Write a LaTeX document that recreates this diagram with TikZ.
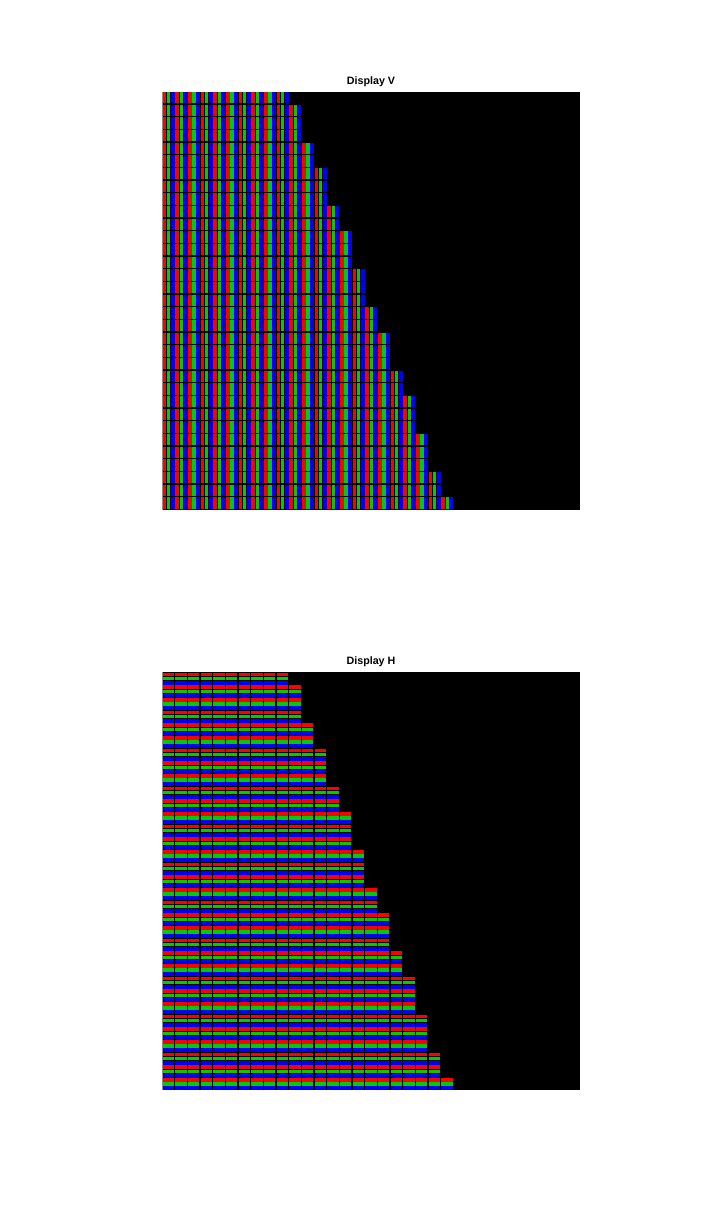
\documentclass[tikz,border=0pt]{standalone}
\usepackage{fontspec}
\setmainfont{Liberation Sans}
\usetikzlibrary{positioning}
\definecolor{sub0}{RGB}{255,0,0}
\definecolor{sub1}{RGB}{0,204,0}
\definecolor{sub2}{RGB}{0,0,255}
\definecolor{edgegray}{RGB}{140,140,140}

% 33 display pixels of 18 samples each, shown on 418 screen px
\def\scl{0.703704}
\def\lenlist{{10,11,11,11,12,12,13,13,13,14,14,15,15,15,16,16,16,17,17,18,18,18,19,19,20,20,20,21,21,21,22,22,23}}
\def\toplist{{0,0,0,0,0,0,0,0,0,0,1,4,6,9,11,14,17,19,22,24,27,30,32}}

\begin{document}
\begin{tikzpicture}[x=1pt,y=-1pt,
  title/.style={font=\bfseries\fontsize{10.7}{12}\selectfont,anchor=base},
  screen/.style={fill=black}
]
\useasboundingbox[fill=white] (0,0) rectangle (718,1225);

% Display V
\node[title] (titleV) at (371,84.5) {Display V};
\fill[screen] (162,92) rectangle (580,510);
\foreach \X in {0,...,290} {
  \pgfmathtruncatemacro\dcol{floor((\X+0.5)/\scl)}
  \pgfmathtruncatemacro\rem{mod(\dcol,18)}
  \pgfmathtruncatemacro\cidx{floor(\rem/6)}
  \pgfmathtruncatemacro\gapv{mod(\rem,6)}
  \pgfmathtruncatemacro\pcol{floor(\dcol/18)}
  \pgfmathtruncatemacro\ytop{ceil(18*\toplist[\pcol]*\scl-0.5)}
  \ifnum\gapv>0 \fill[sub\cidx] (162+\X,92+\ytop) rectangle (163+\X,510); \fi
}
\foreach \i in {0,...,32} {
  \pgfmathtruncatemacro\ya{ceil((18*\i+16)*\scl-0.5)}
  \pgfmathtruncatemacro\yb{ceil((18*\i+18)*\scl-0.5)}
  \fill[screen] (162,92+\ya) rectangle (580,92+\yb);
}
\fill[edgegray] (162,92) rectangle (163,510);

% Display H
\node[title] (titleH) at (371,664.5) {Display H};
\fill[screen] (162,672) rectangle (580,1090);
\foreach \Y in {0,...,417} {
  \pgfmathtruncatemacro\drow{floor((\Y+0.5)/\scl)}
  \pgfmathtruncatemacro\rem{mod(\drow,18)}
  \pgfmathtruncatemacro\cidx{floor(\rem/6)}
  \pgfmathtruncatemacro\gapv{mod(\rem,6)}
  \pgfmathtruncatemacro\prow{floor(\drow/18)}
  \pgfmathtruncatemacro\xend{ceil(18*\lenlist[\prow]*\scl-0.5)}
  \ifnum\gapv>0 \fill[sub\cidx] (162,672+\Y) rectangle (162+\xend,673+\Y); \fi
}
\foreach \i in {0,...,22} {
  \pgfmathtruncatemacro\xa{ceil((18*\i+17)*\scl-0.5)}
  \pgfmathtruncatemacro\xb{ceil((18*\i+19)*\scl-0.5)}
  \fill[screen] (162+\xa,672) rectangle (162+\xb,1090);
}
\fill[edgegray] (162,672) rectangle (163,1090);
\end{tikzpicture}
\end{document}
